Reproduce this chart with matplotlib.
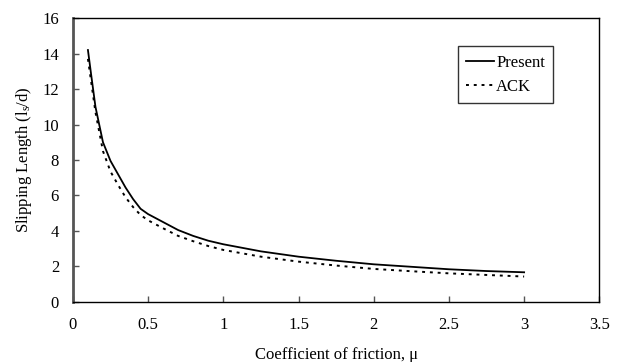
import matplotlib
matplotlib.use("Agg")
import matplotlib.pyplot as plt

plt.rcParams['font.family'] = ['Liberation Serif', 'DejaVu Serif']
plt.rcParams['mathtext.fontset'] = 'custom'
plt.rcParams['mathtext.rm'] = 'Liberation Serif'
plt.rcParams['mathtext.it'] = 'Liberation Serif:italic'

mu = [0.1, 0.12, 0.15, 0.2, 0.25, 0.3, 0.35, 0.4, 0.45, 0.5, 0.6, 0.7, 0.8, 0.9, 1.0,
      1.25, 1.5, 1.75, 2.0, 2.25, 2.5, 2.75, 3.0]
present = [14.2, 12.9, 11.0, 9.0, 7.95, 7.2, 6.45, 5.8, 5.25, 4.95, 4.5, 4.05, 3.72, 3.45, 3.25,
           2.85, 2.55, 2.32, 2.12, 1.98, 1.84, 1.74, 1.67]
ack = [13.7, 12.5, 10.7, 8.5, 7.35, 6.6, 5.9, 5.35, 4.9, 4.6, 4.15, 3.72, 3.42, 3.15, 2.93,
       2.55, 2.27, 2.05, 1.86, 1.73, 1.61, 1.52, 1.43]

xticks = [0, 0.5, 1, 1.5, 2, 2.5, 3, 3.5]
xticklabels = ['0', '0.5', '1', '1.5', '2', '2.5', '3', '3.5']
yticks = [0, 2, 4, 6, 8, 10, 12, 14, 16]

fig = plt.figure(figsize=(6.23, 3.62), dpi=100)
ax = fig.add_axes([0.117, 0.166, 0.845, 0.784])

ax.plot(mu, present, color='black', lw=1.3, label='Present')
ax.plot(mu, ack, color='black', lw=1.4, linestyle=(0, (1.5, 2.5)), label='ACK')

ax.set_xlim(0, 3.5)
ax.set_ylim(0, 16)
ax.set_xticks(xticks)
ax.set_xticklabels(xticklabels)
ax.set_yticks(yticks)
ax.tick_params(direction='in', length=4, width=1, color='#555555', labelsize=12)
ax.tick_params(axis='y', pad=10)
ax.tick_params(axis='x', pad=11)

for s in ['top', 'right', 'bottom']:
    ax.spines[s].set_color('black')
    ax.spines[s].set_linewidth(1.0)
ax.spines['left'].set_color('#555555')
ax.spines['left'].set_linewidth(2.0)

ax.set_xlabel('Coefficient of friction, μ', fontsize=12, labelpad=10)
ax.set_ylabel('Slipping Length (l$_\\mathrm{s}$/d)', fontsize=12, labelpad=6)

leg = ax.legend(loc='upper left', bbox_to_anchor=(0.731, 0.9), fontsize=12,
                frameon=True, fancybox=False, handlelength=1.7, handletextpad=0.1,
                borderpad=0.5, labelspacing=0.5, borderaxespad=0)
leg.get_frame().set_edgecolor('black')
leg.get_frame().set_linewidth(1.0)

fig.savefig('out.png', dpi=100)
